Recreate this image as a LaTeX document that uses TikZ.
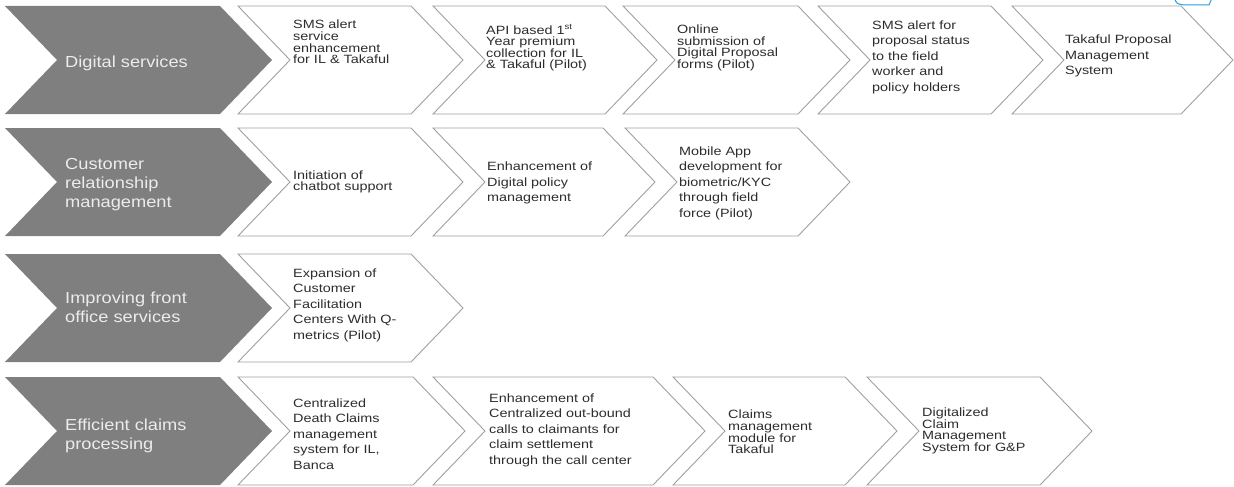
\documentclass[tikz,border=0pt]{standalone}
\usepackage{fontspec}
\setmainfont{Liberation Sans}
\newfontfamily\stepfont[FakeStretch=1.2]{Liberation Sans}
\newfontfamily\hdrfont[FakeStretch=1.14]{Liberation Sans}
\usetikzlibrary{calc}
\definecolor{hdrgray}{RGB}{127,127,127}
\definecolor{rimgray}{RGB}{160,160,160}
\definecolor{hdrtext}{RGB}{236,236,236}
\definecolor{txtdark}{RGB}{45,45,45}
\definecolor{cornerblue}{RGB}{40,160,220}
% chevron: style, left x, centre y, width (tip included)
\newcommand\chev[4][]{%
  \draw[#1] (#2,#3-54) -- (#2+#4-52,#3-54) -- (#2+#4,#3) -- (#2+#4-52,#3+54)
    -- (#2,#3+54) -- (#2+52,#3) -- cycle;}
\tikzset{hdr/.style={fill=hdrgray, draw=none},
  stp/.style={draw=rimgray, line width=0.9pt, fill=white},
  hdrlbl/.style={anchor=west, align=left, inner sep=0pt, text=hdrtext,
    font=\hdrfont\fontsize{16}{19}\selectfont},
  stplbl/.style={anchor=west, align=left, inner sep=0pt, text=txtdark,
    font=\stepfont\fontsize{12}{11.6}\selectfont},
  loose/.style={font=\stepfont\fontsize{12}{15.5}\selectfont}}

\begin{document}
\begin{tikzpicture}[x=1pt,y=-1pt]
  \useasboundingbox (0,0) rectangle (1234,487);
  \clip (0,0) rectangle (1234,487);
  % row 1
  \chev[hdr]{5}{60}{267}
  \node[hdrlbl] (dig) at (65,63) {Digital services};
  \chev[stp]{238}{60}{225}
  \node[stplbl] (dig1) at (293,42) {SMS alert\\service\\enhancement\\for IL \& Takaful};
  \chev[stp]{433}{60}{224}
  \node[stplbl] (dig2) at (486,48) {API based 1\textsuperscript{st}\\Year premium\\collection for IL\\\& Takaful (Pilot)};
  \chev[stp]{623}{60}{227}
  \node[stplbl] (dig3) at (677,48) {Online\\submission of\\Digital Proposal\\forms (Pilot)};
  \chev[stp]{818}{60}{225}
  \node[stplbl,loose] (dig4) at (872,57) {SMS alert for\\proposal status\\to the field\\worker and\\policy holders};
  \chev[stp]{1012}{60}{221}
  \node[stplbl,loose] (dig5) at (1065,56) {Takaful Proposal\\Management\\System};
  % row 2
  \chev[hdr]{5}{182}{267}
  \node[hdrlbl] (crm) at (65,185) {Customer\\relationship\\management};
  \chev[stp]{238}{182}{225}
  \node[stplbl] (crm1) at (293,182) {Initiation of\\chatbot support};
  \chev[stp]{433}{182}{222}
  \node[stplbl,loose] (crm2) at (487,183) {Enhancement of\\Digital policy\\management};
  \chev[stp]{625}{182}{225}
  \node[stplbl,loose] (crm3) at (679,183) {Mobile App\\development for\\biometric/KYC\\through field\\force (Pilot)};
  % row 3
  \chev[hdr]{5}{308}{267}
  \node[hdrlbl] (fos) at (65,307) {Improving front\\office services};
  \chev[stp]{238}{308}{225}
  \node[stplbl,loose] (fos1) at (293,305) {Expansion of\\Customer\\Facilitation\\Centers With Q-\\metrics (Pilot)};
  % row 4
  \chev[hdr]{5}{431}{267}
  \node[hdrlbl] (clm) at (65,436) {Efficient claims\\processing};
  \chev[stp]{238}{431}{227}
  \node[stplbl,loose] (clm1) at (293,434) {Centralized\\Death Claims\\management\\system for IL,\\Banca};
  \chev[stp]{433}{431}{272}
  \node[stplbl,loose] (clm2) at (489,430) {Enhancement of\\Centralized out-bound\\calls to claimants for\\claim settlement\\through the call center};
  \chev[stp]{673}{431}{224}
  \node[stplbl] (clm3) at (728,432) {Claims\\management\\module for\\Takaful};
  \chev[stp]{867}{431}{225}
  \node[stplbl] (clm4) at (922,431) {Digitalized\\Claim\\Management\\System for G\&P};
  % cut-off shape at the top right corner
  \draw[cornerblue, line width=1pt] (1174,-2) .. controls (1177,4) .. (1184,5) -- (1209,5) -- (1212,-2);
\end{tikzpicture}
\end{document}
